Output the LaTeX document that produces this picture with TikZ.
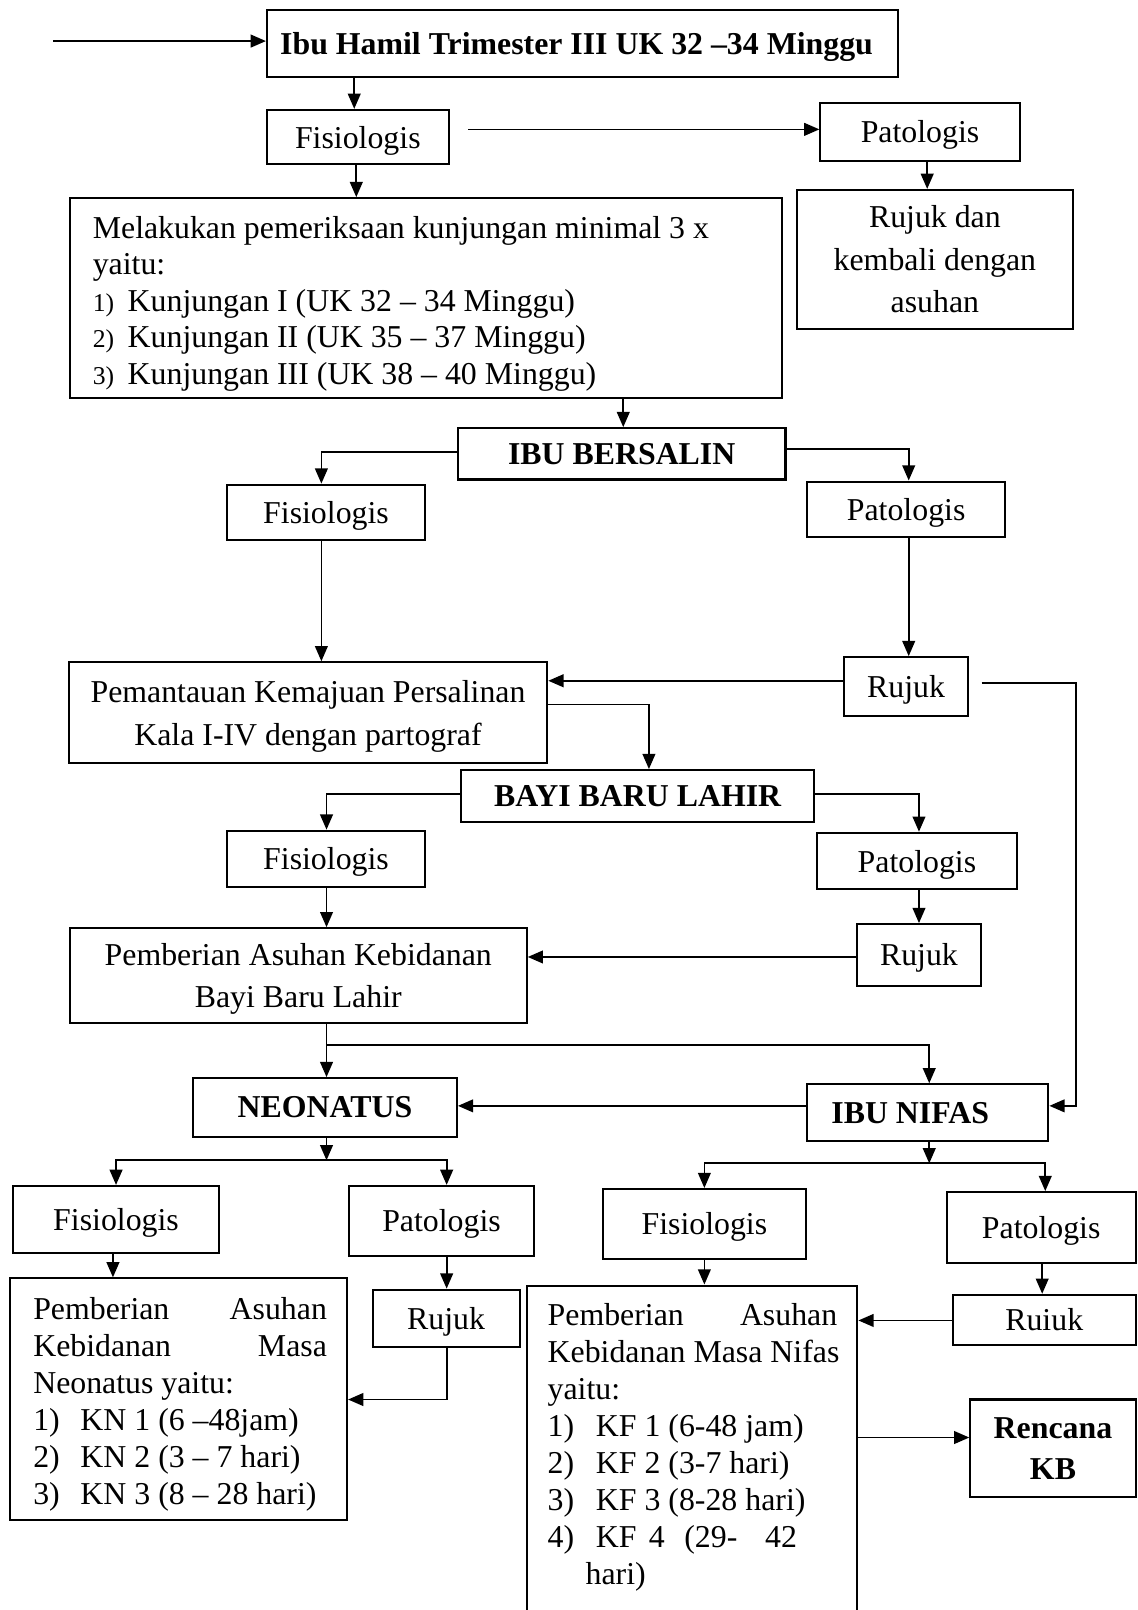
\documentclass[tikz,border=0pt]{standalone}
\usepackage{fontspec}
\setmainfont{Liberation Serif}
\usetikzlibrary{arrows.meta}
\tikzset{
  box/.style={draw, line width=1pt, inner sep=0pt, align=center, text depth=0pt,
    font=\fontsize{15.5}{18}\selectfont},
  bbox/.style={box, font=\fontsize{15.5}{18}\selectfont\bfseries},
  arr/.style={draw, line width=0.85pt, -{Triangle[length=7.4pt,width=6.2pt]}},
  listtxt/.style={inner sep=0pt, anchor=north west, align=left,
    font=\fontsize{15.5}{18}\selectfont}
}
\begin{document}
\begin{tikzpicture}[x=0.5pt,y=-0.5pt]
\fill[white] (0,0) rectangle (1108,1568);
\useasboundingbox (0,0) rectangle (1108,1568);
\clip (0,0) rectangle (1108,1568);

% boxes
\node[bbox, minimum width=307.5pt, minimum height=32.5pt] (hamil) at (567.5,42.5) {Ibu Hamil Trimester III UK 32 –34 Minggu\hspace*{6pt}};
\node[box, minimum width=88.5pt, minimum height=26.5pt] (fis1) at (348.5,133.5) {Fisiologis};
\node[box, minimum width=97pt, minimum height=28.5pt] (pat1) at (896,128.5) {Patologis};
\node[box, minimum width=134.5pt, minimum height=67.5pt, font=\fontsize{15.5}{20.7}\selectfont] (rujuk1) at (910.5,252.5) {Rujuk dan\\kembali dengan\\asuhan};
\node[box, minimum width=347pt, minimum height=97.5pt] (mel) at (415,290.5) {};
\node[listtxt, font=\fontsize{15.5}{17.8}\selectfont] (meltxt) at (90,210)
  {Melakukan pemeriksaan kunjungan minimal 3 x\\
   yaitu:\\
   \makebox[17pt][l]{\fontsize{12.5}{12.5}\selectfont 1)}Kunjungan I (UK 32 – 34 Minggu)\\
   \makebox[17pt][l]{\fontsize{12.5}{12.5}\selectfont 2)}Kunjungan II (UK 35 – 37 Minggu)\\
   \makebox[17pt][l]{\fontsize{12.5}{12.5}\selectfont 3)}Kunjungan III (UK 38 – 40 Minggu)};
\node[bbox, minimum width=159.5pt, minimum height=25pt] (ibub) at (605.5,442) {IBU BERSALIN};
\node[box, minimum width=96.5pt, minimum height=27pt] (fis2) at (317.5,499) {Fisiologis};
\node[box, minimum width=96.5pt, minimum height=27pt] (pat2) at (882.5,496) {Patologis};
\node[box, minimum width=233pt, minimum height=49pt, font=\fontsize{15.5}{21}\selectfont] (pem) at (300,694) {Pemantauan Kemajuan Persalinan\\Kala I-IV dengan partograf};
\node[box, minimum width=60.5pt, minimum height=28.5pt] (ruj2) at (882.5,668.5) {Rujuk};
\node[bbox, minimum width=172pt, minimum height=25.5pt] (bbl) at (621,775.5) {BAYI BARU LAHIR};
\node[box, minimum width=96.5pt, minimum height=27.5pt] (fis3) at (317.5,836.5) {Fisiologis};
\node[box, minimum width=97pt, minimum height=27.5pt] (pat3) at (893,838.5) {Patologis};
\node[box, minimum width=222.5pt, minimum height=46pt, font=\fontsize{15.5}{20.5}\selectfont] (pab) at (290.5,950) {Pemberian Asuhan Kebidanan\\Bayi Baru Lahir};
\node[box, minimum width=60pt, minimum height=30pt] (ruj3) at (895,930) {Rujuk};
\node[bbox, minimum width=128.5pt, minimum height=28.5pt] (neo) at (316.5,1078.5) {NEONATUS};
\node[bbox, minimum width=117.5pt, minimum height=27.5pt] (nif) at (903.5,1083.5) {IBU NIFAS\hspace*{17pt}};
\node[box, minimum width=100pt, minimum height=32.5pt] (fis4) at (113,1187.5) {Fisiologis};
\node[box, minimum width=90pt, minimum height=34pt] (pat4) at (430,1189) {Patologis};
\node[box, minimum width=99pt, minimum height=34pt] (fis5) at (686,1192) {Fisiologis};
\node[box, minimum width=92pt, minimum height=34.5pt] (pat5) at (1014,1195.5) {Patologis};
\node[box, minimum width=164pt, minimum height=117.5pt] (pneo) at (174,1362.5) {};
\node[listtxt] (pneotxt) at (32,1263)
  {\hbox to 143pt{Pemberian\hfill Asuhan}\\
   \hbox to 143pt{Kebidanan\hfill Masa}\\
   Neonatus yaitu:\\
   \makebox[23pt][l]{1)}KN 1 (6 –48jam)\\
   \makebox[23pt][l]{2)}KN 2 (3 – 7 hari)\\
   \makebox[23pt][l]{3)}KN 3 (8 – 28 hari)};
\node[box, minimum width=71.5pt, minimum height=28pt] (ruj4) at (434.5,1284) {Rujuk};
\node[box, minimum width=161pt, minimum height=169pt] (pnif) at (674,1421) {};
\node[listtxt] (pniftxt) at (533,1269)
  {\hbox to 141pt{Pemberian\hfill Asuhan}\\
   Kebidanan Masa Nifas\\
   yaitu:\\
   \makebox[23.5pt][l]{1)}KF 1 (6-48 jam)\\
   \makebox[23.5pt][l]{2)}KF 2 (3-7 hari)\\
   \makebox[23.5pt][l]{3)}KF 3 (8-28 hari)\\
   \makebox[23.5pt][l]{4)}KF\hspace{6pt}4\hspace{9.5pt}(29-\hspace{13.5pt}42\\
   \hspace*{18.5pt}hari)};
\node[box, minimum width=89pt, minimum height=24.5pt] (ruj5) at (1017,1285.5) {Ruiuk};
\node[bbox, minimum width=80.5pt, minimum height=47.5pt, font=\fontsize{15.5}{20}\selectfont\bfseries] (kb) at (1025.5,1410.5) {Rencana\\KB};

% connectors
\coordinate (in) at (52,40);
\draw[arr] (in) -- (in -| hamil.west);
\draw[arr] (hamil.south -| 345,0) -- (fis1.north -| 345,0);
\draw[arr] (fis1.south -| 347,0) -- (mel.north -| 347,0);
\draw[arr, shorten <=9pt] (fis1.east |- 0,126) -- (pat1.west |- 0,126);
\draw[arr] (pat1.south -| 903,0) -- (rujuk1.north -| 903,0);
\draw[arr] (mel.south -| 607,0) -- (ibub.north -| 607,0);
\draw[arr] (ibub.west |- 0,440) -| (fis2.north -| 313,0);
\draw[arr] (ibub.east |- 0,437) -| (pat2.north -| 885,0);
\draw[arr] (fis2.south -| 313,0) -- (pem.north -| 313,0);
\draw[arr] (pat2.south -| 885,0) -- (ruj2.north -| 885,0);
\draw[arr] (ruj2.west |- 0,663) -- (pem.east |- 0,663);
\draw[arr, shorten <=6pt] (ruj2.east |- 0,665) -| (1048,1077) -- (nif.east |- 0,1077);
\draw[arr] (pem.east |- 0,686) -| (bbl.north -| 632,0);
\draw[arr] (bbl.west |- 0,773) -| (fis3.north -| 318,0);
\draw[arr] (bbl.east |- 0,773) -| (pat3.north -| 895,0);
\draw[arr] (fis3.south -| 318,0) -- (pab.north -| 318,0);
\draw[arr] (pat3.south -| 895,0) -- (ruj3.north -| 895,0);
\draw[arr] (ruj3.west |- 0,932) -- (pab.east |- 0,932);
\draw[arr] (pab.south -| 318,0) -- (neo.north -| 318,0);
\coordinate (j1) at (318,1018);
\draw[arr] (j1) -| (nif.north -| 905,0);
\draw[arr] (nif.west |- 0,1077) -- (neo.east |- 0,1077);
\coordinate (f1) at (318,1130);
\draw[arr] (neo.south -| f1) -- (f1);
\draw[arr] (f1) -| (fis4.north -| 113,0);
\draw[arr] (f1) -| (pat4.north -| 435,0);
\coordinate (f2) at (905,1133);
\draw[arr] (nif.south -| f2) -- (f2);
\draw[arr] (f2) -| (fis5.north -| 686,0);
\draw[arr] (f2) -| (pat5.north -| 1018,0);
\draw[arr] (fis4.south -| 110,0) -- (pneo.north -| 110,0);
\draw[arr] (pat4.south -| 435,0) -- (ruj4.north -| 435,0);
\draw[arr] (ruj4.south -| 435,0) |- (pneo.east |- 0,1363);
\draw[arr] (fis5.south -| 686,0) -- (pnif.north -| 686,0);
\draw[arr] (pat5.south -| 1015,0) -- (ruj5.north -| 1015,0);
\draw[arr] (ruj5.west |- 0,1286) -- (pnif.east |- 0,1286);
\draw[arr] (pnif.east |- 0,1400) -- (kb.west |- 0,1400);
\end{tikzpicture}
\end{document}
